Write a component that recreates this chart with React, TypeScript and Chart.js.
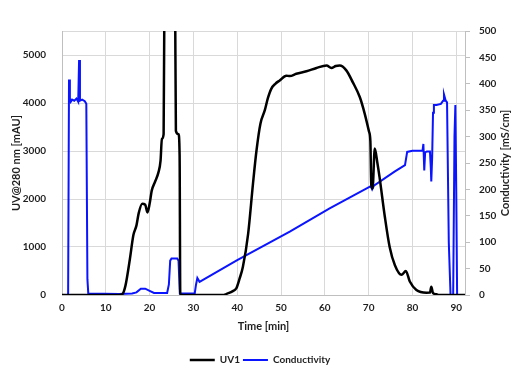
import React, { useEffect, useRef } from "react";
import { Chart, registerables } from "chart.js";

Chart.register(...registerables);

// UV1 trace (time in min, absorbance in mAU)
const uvTime = [0, 13, 13.8, 14.5, 15.5, 16.3, 17, 17.5, 18.3, 19, 19.5, 20, 20.5, 21.2, 22, 22.5, 22.8, 23.2, 23.4, 24.5, 25.8, 26.0, 26.6, 26.85, 27.0, 37, 37.5, 39, 39.8, 40.5, 41.3, 42.5, 43.6, 44.4, 45.3, 46.3, 47, 47.8, 48.7, 49.7, 51.2, 52, 53.5, 55.8, 58.1, 60.4, 61.5, 62.5, 63.4, 64.9, 66.4, 68, 69.1, 70.1, 70.4, 70.6, 70.9, 71.4, 72, 72.5, 73.7, 74.8, 76, 77.5, 78.5, 79.4, 80.9, 83.2, 84, 84.3, 84.7, 85.5, 86, 92];
const uvValue = [0, 0, 20, 200, 750, 1250, 1450, 1700, 1900, 1880, 1720, 1900, 2180, 2350, 2550, 2800, 3250, 3350, 6500, 9000, 6500, 3420, 3350, 2900, 0, 0, 20, 80, 140, 330, 590, 1280, 2320, 3010, 3570, 3850, 4100, 4300, 4400, 4470, 4570, 4560, 4610, 4660, 4730, 4780, 4730, 4770, 4780, 4680, 4430, 4120, 3780, 3400, 3200, 2300, 2220, 3050, 2750, 2450, 1630, 1000, 620, 420, 500, 280, 105, 48, 50, 170, 40, 15, 0, 0];

// Conductivity trace (time in min, mS/cm)
const condTime = [0, 1.4, 1.6, 1.8, 2.0, 2.3, 2.8, 3.3, 3.7, 3.9, 4.1, 4.6, 5.2, 5.55, 5.8, 6.0, 13, 16, 17, 18, 19, 20, 21, 24, 24.4, 24.7, 25, 26.3, 26.6, 26.9, 30.3, 30.6, 30.9, 31.4, 40, 52, 61.1, 70.5, 70.8, 71.2, 76, 78.3, 78.8, 80, 82.3, 82.5, 82.7, 82.9, 83.3, 84, 84.2, 84.3, 84.5, 84.7, 84.9, 85.5, 86.5, 87.0, 87.2, 87.6, 87.9, 88.3, 88.7, 89.3, 89.6, 89.8, 90.0, 90.2, 92];
const condValue = [0, 0, 408, 372, 366, 370, 368, 372, 366, 445, 368, 370, 367, 362, 30, 3, 2, 3, 5, 12, 12, 8, 4, 4, 20, 65, 69, 69, 65, 3, 3, 20, 32, 25, 66, 120, 164, 206, 200, 207, 234, 246, 271, 273, 273, 286, 236, 270, 272, 272, 240, 215, 260, 345, 360, 360, 362, 368, 380, 368, 365, 100, 0, 0, 300, 360, 200, 0, 0];

const xTicks = [0, 10, 20, 30, 40, 50, 60, 70, 80, 90];
const uvTicks = [0, 1000, 2000, 3000, 4000, 5000];
const condTicks = [0, 50, 100, 150, 200, 250, 300, 350, 400, 450, 500];

const FONT = 'Lato, "Open Sans", "Liberation Sans", sans-serif';
const TEXT = "#1f1f1f";

export default function App() {
  const ref = useRef<HTMLCanvasElement | null>(null);

  useEffect(() => {
    if (!ref.current) return;
    const rightTitle = {
      id: "rightTitle",
      afterDraw(chart: any) {
        const { ctx, chartArea } = chart;
        ctx.save();
        ctx.translate(505, (chartArea.top + chartArea.bottom) / 2);
        ctx.rotate(-Math.PI / 2);
        ctx.font = `bold 11px ${FONT}`;
        ctx.fillStyle = TEXT;
        ctx.textAlign = "center";
        ctx.textBaseline = "middle";
        ctx.fillText("Conductivity [mS/cm]", 0, 0);
        ctx.restore();
      },
    };
    const chart = new Chart(ref.current, {
      type: "line",
      data: {
        datasets: [
          {
            label: "UV1",
            data: uvTime.map((t, i) => ({ x: t, y: uvValue[i] })),
            borderColor: "#000000",
            backgroundColor: "#000000",
            borderWidth: 2.5,
            pointRadius: 0,
            cubicInterpolationMode: "monotone",
            yAxisID: "y",
          },
          {
            label: "Conductivity",
            data: condTime.map((t, i) => ({ x: t, y: condValue[i] })),
            borderColor: "#0a14ff",
            backgroundColor: "#0a14ff",
            borderWidth: 2,
            pointRadius: 0,
            tension: 0,
            yAxisID: "y1",
          },
        ],
      },
      options: {
        animation: false,
        responsive: false,
        layout: { padding: { top: 31, left: 0, right: 0, bottom: -6 } },
        plugins: {
          tooltip: { enabled: false },
          legend: {
            position: "bottom",
            labels: {
              usePointStyle: true,
              pointStyle: "line",
              pointStyleWidth: 25,
              boxHeight: 3,
              color: TEXT,
              padding: 3,
              font: { family: FONT, size: 10, weight: "bold" },
            },
          },
        },
        scales: {
          x: {
            type: "linear",
            min: 0,
            max: 92,
            afterBuildTicks: (s: any) => {
              s.ticks = xTicks.map((v) => ({ value: v })).concat([{ value: 92 }]);
            },
            ticks: {
              color: TEXT,
              padding: 7,
              maxRotation: 0,
              font: { family: FONT, size: 10, weight: "bold" },
              callback: (v: any) => (v === 92 ? "" : String(v)),
            },
            grid: { color: "#d9d9d9", drawTicks: false, lineWidth: 1 },
            border: { color: "#bfbfbf" },
            title: {
              display: true,
              text: "Time [min]",
              color: TEXT,
              padding: { top: 4, bottom: 19 },
              font: { family: FONT, size: 11, weight: "bold" },
            },
            afterFit: (s: any) => {
              s.height = 57;
            },
          },
          y: {
            type: "linear",
            position: "left",
            min: 0,
            max: 5500,
            afterBuildTicks: (s: any) => {
              s.ticks = uvTicks.map((v) => ({ value: v })).concat([{ value: 5500 }]);
            },
            ticks: {
              color: TEXT,
              padding: 16,
              font: { family: FONT, size: 10, weight: "bold" },
              callback: (v: any) => (v === 5500 ? "" : String(v)),
            },
            grid: { color: "#d9d9d9", drawTicks: false },
            border: { color: "#bfbfbf" },
            title: {
              display: true,
              text: "UV@280 nm [mAU]",
              color: TEXT,
              padding: { top: 10, bottom: 0 },
              font: { family: FONT, size: 11, weight: "bold" },
            },
            afterFit: (s: any) => {
              s.width = 62;
            },
          },
          y1: {
            type: "linear",
            position: "right",
            min: 0,
            max: 500,
            afterBuildTicks: (s: any) => {
              s.ticks = condTicks.map((v) => ({ value: v }));
            },
            ticks: {
              color: TEXT,
              padding: 9,
              font: { family: FONT, size: 10, weight: "bold" },
            },
            grid: { drawOnChartArea: false, color: "#bfbfbf", tickLength: 5 },
            border: { color: "#bfbfbf" },
            afterFit: (s: any) => {
              s.width = 55;
            },
          },
        },
      },
      plugins: [rightTitle],
    } as any);
    return () => chart.destroy();
  }, []);

  return (
    <div style={{ position: "fixed", left: 0, top: 0, width: 520, height: 369, background: "#fff" }}>
      <canvas ref={ref} width={520} height={369} />
    </div>
  );
}
